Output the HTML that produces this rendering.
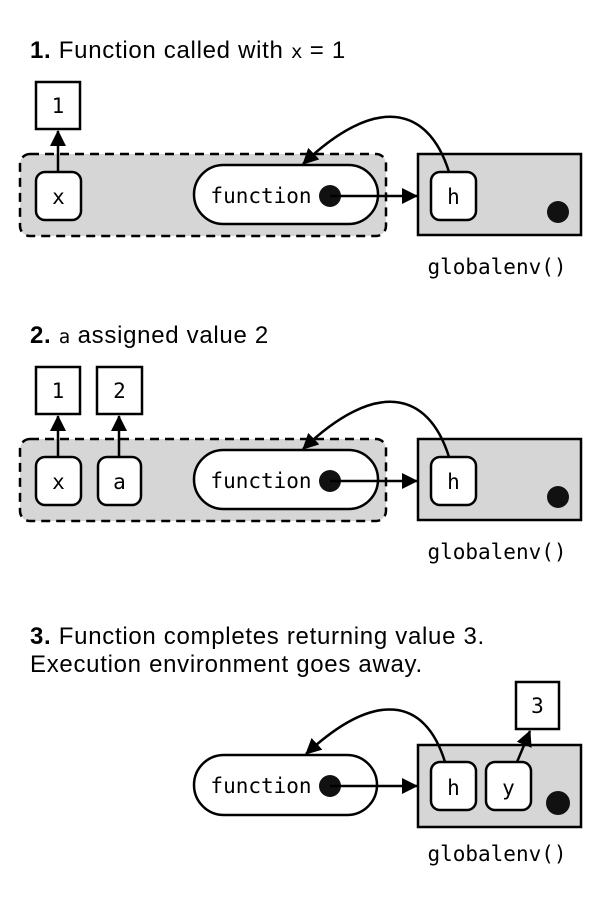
<!DOCTYPE html>
<html><head><style>
body{margin:0;background:#fff;}
</style></head><body>
<svg width="600" height="900" xmlns="http://www.w3.org/2000/svg" font-family="Liberation Sans, sans-serif">
<defs>
<marker id="ah2" markerWidth="16" markerHeight="16" refX="15" refY="8" orient="auto" markerUnits="userSpaceOnUse"><path d="M0,0 L16,8 L0,16 z" fill="#000"/></marker>
</defs>
<g font-size="24" fill="#000" letter-spacing="0.7">
<text x="30" y="58"><tspan font-weight="bold">1.</tspan> Function called with <tspan font-family="DejaVu Sans Mono, monospace" font-size="19" letter-spacing="0">x</tspan> = 1</text>
<text x="30" y="343"><tspan font-weight="bold">2.</tspan> <tspan font-family="DejaVu Sans Mono, monospace" font-size="19" letter-spacing="0">a</tspan> assigned value 2</text>
<text x="30" y="644"><tspan font-weight="bold">3.</tspan> Function completes returning value 3.</text>
<text x="30" y="672">Execution environment goes away.</text>
</g>
<g font-family="DejaVu Sans Mono, Liberation Mono, monospace" font-size="21" text-anchor="middle" stroke-width="2.5">
<!-- panel 1 -->
<rect x="20" y="154" width="366" height="82" rx="10" fill="#d6d6d6" stroke="#000" stroke-dasharray="9,6"/>
<rect x="36" y="82" width="44" height="47" fill="#fff" stroke="#000"/>
<text x="58" y="113">1</text>
<line x1="58" y1="172" x2="58" y2="131" stroke="#000" marker-end="url(#ah2)"/>
<rect x="36" y="172" width="45" height="48" rx="9" fill="#fff" stroke="#000"/>
<text x="58.5" y="204">x</text>
<rect x="194" y="165" width="184" height="59" rx="29.5" fill="#fff" stroke="#000"/>
<text x="261" y="203">function</text>
<rect x="418" y="154" width="163" height="81" fill="#d6d6d6" stroke="#000"/>
<rect x="431" y="172" width="45" height="48" rx="9" fill="#fff" stroke="#000"/>
<text x="453.5" y="204">h</text>
<circle cx="558" cy="212" r="11" fill="#111"/>
<circle cx="330" cy="196" r="11" fill="#111"/>
<line x1="330" y1="196" x2="417" y2="196" stroke="#000" marker-end="url(#ah2)"/>
<path d="M449,172 C428,105 375,95 303,164" fill="none" stroke="#000" marker-end="url(#ah2)"/>
<text x="497" y="274">globalenv()</text>
<!-- panel 2 -->
<rect x="20" y="439" width="366" height="82" rx="10" fill="#d6d6d6" stroke="#000" stroke-dasharray="9,6"/>
<rect x="36" y="367" width="44" height="47" fill="#fff" stroke="#000"/>
<text x="58" y="398">1</text>
<rect x="97" y="367" width="45" height="47" fill="#fff" stroke="#000"/>
<text x="119.5" y="398">2</text>
<line x1="58" y1="457" x2="58" y2="416" stroke="#000" marker-end="url(#ah2)"/>
<line x1="119" y1="457" x2="119" y2="416" stroke="#000" marker-end="url(#ah2)"/>
<rect x="36" y="457" width="45" height="48" rx="9" fill="#fff" stroke="#000"/>
<text x="58.5" y="489">x</text>
<rect x="98" y="457" width="43" height="48" rx="9" fill="#fff" stroke="#000"/>
<text x="119.5" y="489">a</text>
<rect x="194" y="450" width="184" height="59" rx="29.5" fill="#fff" stroke="#000"/>
<text x="261" y="488">function</text>
<rect x="418" y="439" width="163" height="81" fill="#d6d6d6" stroke="#000"/>
<rect x="431" y="457" width="45" height="48" rx="9" fill="#fff" stroke="#000"/>
<text x="453.5" y="489">h</text>
<circle cx="558" cy="497" r="11" fill="#111"/>
<circle cx="330" cy="481" r="11" fill="#111"/>
<line x1="330" y1="481" x2="417" y2="481" stroke="#000" marker-end="url(#ah2)"/>
<path d="M449,457 C428,390 375,380 303,449" fill="none" stroke="#000" marker-end="url(#ah2)"/>
<text x="497" y="559">globalenv()</text>
<!-- panel 3 -->
<rect x="516" y="682" width="43" height="47" fill="#fff" stroke="#000"/>
<text x="537.5" y="713">3</text>
<rect x="194" y="755" width="183" height="60" rx="30" fill="#fff" stroke="#000"/>
<text x="261" y="793">function</text>
<rect x="418" y="745" width="163" height="82" fill="#d6d6d6" stroke="#000"/>
<rect x="431" y="762" width="45" height="48" rx="9" fill="#fff" stroke="#000"/>
<text x="453.5" y="795">h</text>
<rect x="486" y="762" width="45" height="48" rx="9" fill="#fff" stroke="#000"/>
<text x="508.5" y="795">y</text>
<line x1="517" y1="762" x2="530" y2="731" stroke="#000" marker-end="url(#ah2)"/>
<circle cx="558" cy="803" r="12" fill="#111"/>
<circle cx="330" cy="786" r="11" fill="#111"/>
<line x1="330" y1="786" x2="417" y2="786" stroke="#000" marker-end="url(#ah2)"/>
<path d="M445,762 C425,697 375,690 306,754" fill="none" stroke="#000" marker-end="url(#ah2)"/>
<text x="497" y="861">globalenv()</text>
</g>
</svg>
</body></html>
